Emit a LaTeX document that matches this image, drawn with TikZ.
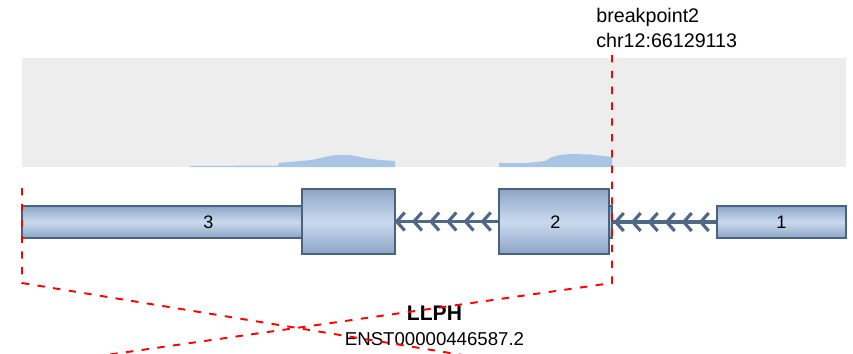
\documentclass[tikz,border=0pt]{standalone}
\usepackage{fontspec}
\setmainfont{Liberation Sans}
\usetikzlibrary{calc}

\begin{document}
\begin{tikzpicture}[x=0.02cm, y=-0.02cm,
    exon/.style={draw=exonBorder, line width=0.8pt, top color=exonDark, bottom color=exonDark, middle color=exonLight, inner sep=0pt},
    exonlabel/.style={font=\fontsize{10.3}{12}\selectfont, text=black},
    intron/.style={draw=intronColour, line width=1.9pt},
    chevron/.style={draw=intronColour, line width=1.8pt},
    bpline/.style={draw=red, line width=1.1pt, dash pattern=on 4.2pt off 4.8pt}]
    % Define colours
    \definecolor{exonBorder}{HTML}{4A6282}
    \definecolor{exonDark}{HTML}{8CA5C6}
    \definecolor{exonLight}{HTML}{CADAEE}
    \definecolor{intronColour}{HTML}{4F6888}
    \definecolor{coverColour}{HTML}{A9C5E6}
    \definecolor{trackGrey}{HTML}{EDEDED}

    \useasboundingbox (0,0) rectangle (853,353);
    \clip (0,0) rectangle (853,353);

    % Coverage track
    \fill[trackGrey] (22,58) rectangle (846,167);
    \fill[coverColour] (190,167) -- (190,166) -- (278,165.5) -- (279,163) -- (300,161) -- (312,160)
        -- (325,157) -- (335,155) -- (350,155) -- (365,158) -- (380,160) -- (395,161) -- (395,167) -- cycle;
    \fill[coverColour] (499,167) -- (499,163) -- (527,163) -- (545,161) -- (552,157) -- (560,155)
        -- (570,154) -- (590,154.5) -- (612,157) -- (612,167) -- cycle;

    % Exons
    \node[exon, minimum width=7.46cm, minimum height=0.64cm] (e3) at (208.5,222) {};
    \node[exon, minimum width=1.86cm, minimum height=1.3cm] (e3cds) at (348.5,221.5) {};
    \node[exon, minimum width=2.26cm, minimum height=0.64cm] (e2) at (555.5,222) {};
    \node[exon, minimum width=2.2cm, minimum height=1.3cm] (e2cds) at (554,221.5) {};
    \node[exon, minimum width=2.58cm, minimum height=0.64cm] (e1) at (781.5,222) {};

    \node[exonlabel] (l3) at (e3) {3};
    \node[exonlabel] (l2) at (e2) {2};
    \node[exonlabel] (l1) at (e1) {1};

    % Introns
    \draw[intron] (e3cds.east) -- (e2cds.west);
    \draw[intron] (e2.east) -- (e1.west);
    \foreach \k in {0,...,5}
        \draw[chevron] ($(e3cds.east)+(9+\k*17.2,-9)$) -- ++(-8,9) -- ++(8,9);
    \foreach \k in {0,...,5}
        \draw[chevron] ($(e2.east)+(11+\k*17,-9)$) -- ++(-8,9) -- ++(8,9);

    % Breakpoint
    \node[anchor=base west, inner sep=0pt, font=\fontsize{11.2}{13}\selectfont] (bp) at (596,22) {breakpoint2};
    \node[anchor=base west, inner sep=0pt, font=\fontsize{11.2}{13}\selectfont] (bpchr) at (596,47) {chr12:66129113};

    % Gene name
    \node[anchor=base, font=\bfseries\fontsize{12}{14}\selectfont] (gene) at (434.5,320) {LLPH};
    \node[anchor=base, font=\fontsize{10.6}{12}\selectfont] (tx) at (434.5,345) {ENST00000446587.2};

    % Dashed guide lines
    \coordinate (rtop) at (612,55);
    \coordinate (rturn) at (612,283);
    \coordinate (rend) at (71,360);
    \coordinate (ltop) at (22,188);
    \coordinate (lturn) at (22,283);
    \coordinate (lend) at (493,360);
    \draw[bpline] (rtop) -- (rturn) -- (rend);
    \draw[bpline] (ltop) -- (lturn) -- (lend);

\end{tikzpicture}
\end{document}
